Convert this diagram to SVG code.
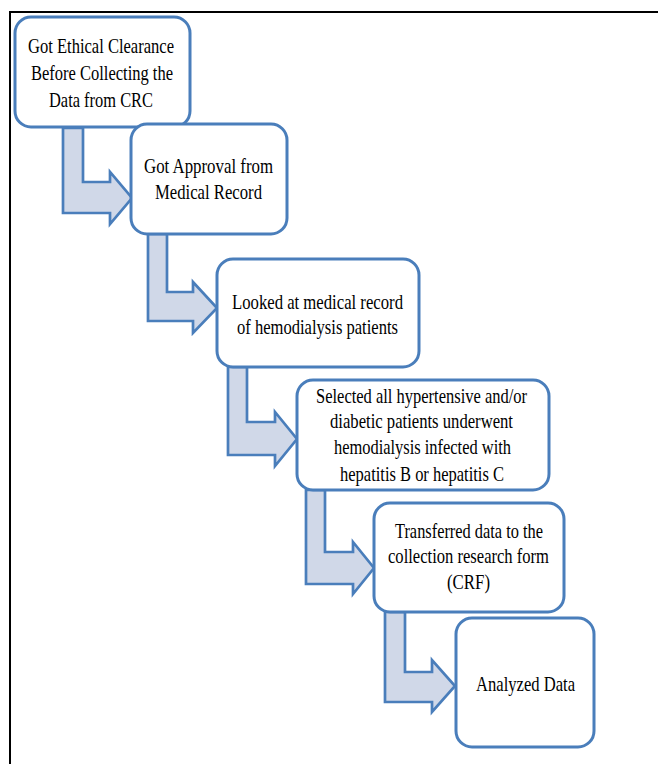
<svg xmlns="http://www.w3.org/2000/svg" width="658" height="764" viewBox="0 0 658 764">
<style>
.box{fill:#fff;stroke:#4A7EBB;stroke-width:3}
.arr{fill:#D0D8E8;stroke:#4A7EBB;stroke-width:2.7;stroke-linejoin:miter}
text{font-family:"Liberation Serif","Times New Roman",serif;font-size:22px;fill:#000;text-anchor:middle}
</style>
<rect width="658" height="764" fill="#fff"/>
<path d="M10,764 V12 H658" fill="none" stroke="#000" stroke-width="2"/>
<g id="connectors">
<polygon class="arr" points="63,128 83,128 83,182 110,182 110,172 132,198 110,224 110,213 63,213"/>
<polygon class="arr" points="148,234 167,234 167,292 193,292 193,282 217,308 193,333 193,321 148,321"/>
<polygon class="arr" points="228,367 247,367 247,422 275,422 275,412 297,439 275,466 275,455 228,455"/>
<polygon class="arr" points="306,490 325,490 325,552 353,552 353,542 374,568 353,594 353,584 306,584"/>
<polygon class="arr" points="385,612 405,612 405,672 432,672 432,660 455,686 432,712 432,702 385,702"/>
</g>
<g id="node1">
<rect class="box" x="15" y="17" width="175" height="110" rx="16"/>
<text x="101" y="53" textLength="146" lengthAdjust="spacingAndGlyphs">Got Ethical Clearance</text>
<text x="102" y="80" textLength="142" lengthAdjust="spacingAndGlyphs">Before Collecting the</text>
<text x="101" y="107" textLength="104" lengthAdjust="spacingAndGlyphs">Data from CRC</text>
</g>
<g id="node2">
<rect class="box" x="131" y="124" width="156" height="110" rx="16"/>
<text x="208.5" y="173" textLength="129" lengthAdjust="spacingAndGlyphs">Got Approval from</text>
<text x="208.5" y="199" textLength="107" lengthAdjust="spacingAndGlyphs">Medical Record</text>
</g>
<g id="node3">
<rect class="box" x="217" y="259" width="202" height="108" rx="16"/>
<text x="317.5" y="309" textLength="171" lengthAdjust="spacingAndGlyphs">Looked at medical record</text>
<text x="317.5" y="334" textLength="161" lengthAdjust="spacingAndGlyphs">of hemodialysis patients</text>
</g>
<g id="node4">
<rect class="box" x="297" y="380" width="252" height="110" rx="16"/>
<text x="421.5" y="403" textLength="211" lengthAdjust="spacingAndGlyphs">Selected all hypertensive and/or</text>
<text x="421.5" y="428" textLength="183" lengthAdjust="spacingAndGlyphs">diabetic patients underwent</text>
<text x="422.5" y="454" textLength="177" lengthAdjust="spacingAndGlyphs">hemodialysis infected with</text>
<text x="422" y="481" textLength="164" lengthAdjust="spacingAndGlyphs">hepatitis B or hepatitis C</text>
</g>
<g id="node5">
<rect class="box" x="374" y="503" width="190" height="109" rx="16"/>
<text x="469" y="538" textLength="148" lengthAdjust="spacingAndGlyphs">Transferred data to the</text>
<text x="468.5" y="563" textLength="161" lengthAdjust="spacingAndGlyphs">collection research form</text>
<text x="468.5" y="589" textLength="43" lengthAdjust="spacingAndGlyphs">(CRF)</text>
</g>
<g id="node6">
<rect class="box" x="456" y="618" width="138" height="129" rx="16"/>
<text x="525.5" y="691" textLength="99" lengthAdjust="spacingAndGlyphs">Analyzed Data</text>
</g>
</svg>
